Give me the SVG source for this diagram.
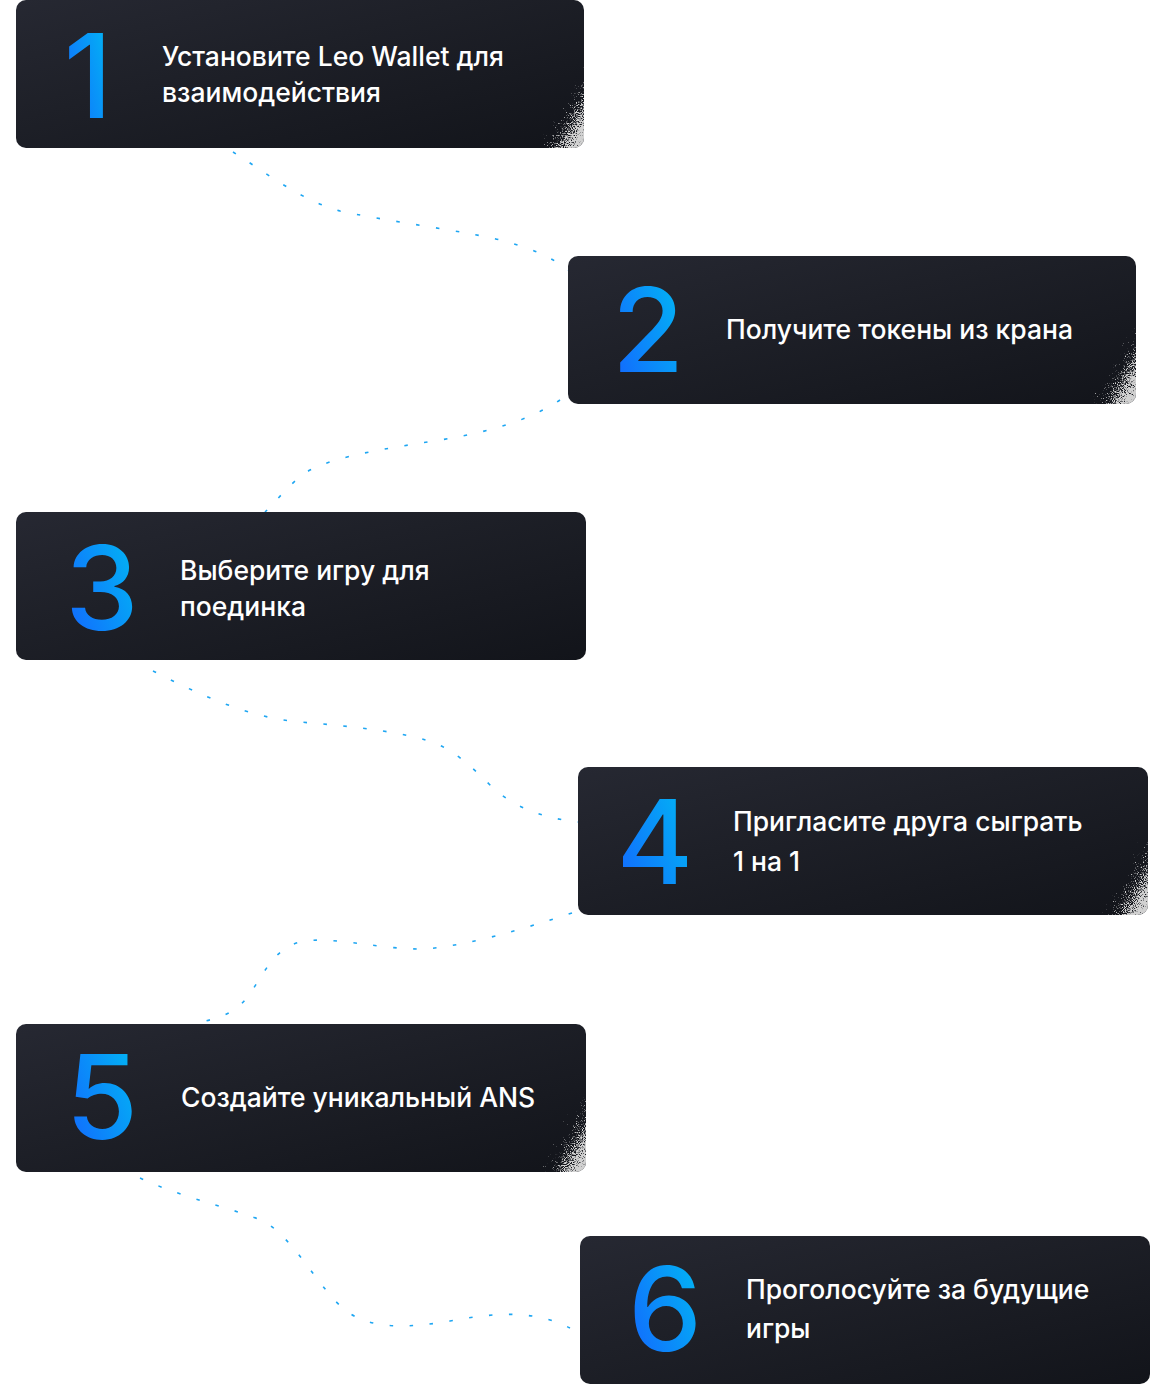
<svg xmlns="http://www.w3.org/2000/svg" width="1151" height="1385" viewBox="0 0 1151 1385">
<style>
.card{fill:url(#cardGrad)}
.num{font-family:Inter,"Noto Sans",sans-serif;font-size:117px;font-weight:500;fill:url(#numGrad);text-anchor:middle}
.lbl{font-family:Inter,"Noto Sans",sans-serif;font-size:26.5px;font-weight:500;fill:#ffffff}
.conn{fill:none;stroke:#1ea6f2;stroke-width:1.6;stroke-dasharray:3.5 16.5;stroke-linecap:butt}
.grain{fill:url(#grainGrad);filter:url(#grain)}
</style>
<defs>
<linearGradient id="cardGrad" x1="0" y1="0" x2="1" y2="1">
<stop offset="0" stop-color="#262832"/>
<stop offset="0.4" stop-color="#1e2028"/>
<stop offset="1" stop-color="#12141a"/>
</linearGradient>
<linearGradient id="numGrad" x1="0" y1="1" x2="1" y2="0.3">
<stop offset="0" stop-color="#1460ff"/>
<stop offset="1" stop-color="#02b4f4"/>
</linearGradient>
<linearGradient id="grainGrad" x1="1" y1="1" x2="0.38" y2="0.38">
<stop offset="0" stop-color="#ffffff"/>
<stop offset="1" stop-color="#000000"/>
</linearGradient>
<filter id="grain" x="0" y="0" width="1" height="1" color-interpolation-filters="sRGB">
<feTurbulence type="fractalNoise" baseFrequency="0.9" numOctaves="2" seed="7" result="t"/>
<feColorMatrix in="t" type="matrix" values="1 0 0 0 0  1 0 0 0 0  1 0 0 0 0  0 0 0 0 1" result="n"/>
<feComposite in="n" in2="SourceGraphic" operator="arithmetic" k1="0" k2="1" k3="1" k4="-0.97" result="s"/>
<feColorMatrix in="s" type="matrix" values="0 0 0 0 0.82  0 0 0 0 0.82  0 0 0 0 0.82  5 0 0 0 -0.4"/>
</filter>
<clipPath id="clip1"><rect x="16" y="0" width="568" height="148" rx="10"/></clipPath>
<clipPath id="clip2"><rect x="568" y="256" width="568" height="148" rx="10"/></clipPath>
<clipPath id="clip4"><rect x="578" y="767" width="570" height="148" rx="10"/></clipPath>
<clipPath id="clip5"><rect x="16" y="1024" width="570" height="148" rx="10"/></clipPath>
</defs>
<rect width="1151" height="1385" fill="#ffffff"/>

<g id="connectors">
<path class="conn" d="M233,152 C265,172 300,200 340,211 C380,220 470,232 500,240 C530,248 550,256 568,270"/>
<path class="conn" d="M560,400 C530,420 490,432 440,440 C390,448 340,455 310,470 C290,482 278,500 265,512"/>
<path class="conn" d="M153,671 C200,695 250,718 300,722 C360,727 410,733 437,744 C455,752 470,765 490,785 C510,805 540,818 578,822"/>
<path class="conn" d="M572,913 C520,930 470,945 425,949 C380,950 330,935 300,942 C270,950 262,980 245,1000 C235,1012 220,1018 205,1021"/>
<path class="conn" d="M140,1178 C185,1199 240,1210 265,1222 C295,1240 320,1290 345,1310 C370,1330 410,1328 450,1321 C490,1314 530,1308 570,1328"/>
</g>

<g id="step1">
<rect class="card" x="16" y="0" width="568" height="148" rx="10"/>
<g clip-path="url(#clip1)"><rect class="grain" x="530" y="52" width="54" height="96"/></g>
<text class="num" x="88" y="118">1</text>
<text class="lbl" x="162" y="66">Установите Leo Wallet для</text>
<text class="lbl" x="162" y="102">взаимодействия</text>
</g>

<g id="step2">
<rect class="card" x="568" y="256" width="568" height="148" rx="10"/>
<g clip-path="url(#clip2)"><rect class="grain" x="1082" y="308" width="54" height="96"/></g>
<text class="num" x="648" y="372">2</text>
<text class="lbl" x="726" y="339">Получите токены из крана</text>
</g>

<g id="step3">
<rect class="card" x="16" y="512" width="570" height="148" rx="10"/>
<text class="num" x="102" y="630">3</text>
<text class="lbl" x="180" y="580">Выберите игру для</text>
<text class="lbl" x="180" y="616">поединка</text>
</g>

<g id="step4">
<rect class="card" x="578" y="767" width="570" height="148" rx="10"/>
<g clip-path="url(#clip4)"><rect class="grain" x="1094" y="819" width="54" height="96"/></g>
<text class="num" x="655" y="884">4</text>
<text class="lbl" x="733" y="831">Пригласите друга сыграть</text>
<text class="lbl" x="733" y="871">1 на 1</text>
</g>

<g id="step5">
<rect class="card" x="16" y="1024" width="570" height="148" rx="10"/>
<g clip-path="url(#clip5)"><rect class="grain" x="532" y="1076" width="54" height="96"/></g>
<text class="num" x="102" y="1139">5</text>
<text class="lbl" x="181" y="1107">Создайте уникальный ANS</text>
</g>

<g id="step6">
<rect class="card" x="580" y="1236" width="570" height="148" rx="10"/>
<text class="num" x="665" y="1351">6</text>
<text class="lbl" x="746" y="1299">Проголосуйте за будущие</text>
<text class="lbl" x="746" y="1338">игры</text>
</g>
</svg>
